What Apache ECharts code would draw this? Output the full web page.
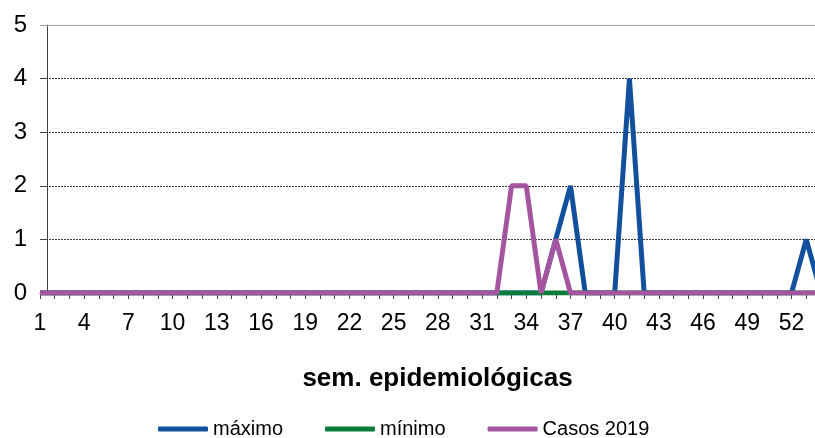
<!DOCTYPE html>
<html>
<head>
<meta charset="utf-8">
<script src="https://cdn.jsdelivr.net/npm/echarts@6/dist/echarts.min.js"></script>
<style>
	html, body { margin: 0; padding: 0; background: #fff; }
	#chart { width: 815px; height: 438px; }
</style>
</head>
<body>
<div id="chart"></div>
<script>
// epidemiological weeks (the 54th point runs off the right edge of the plot)
var weeks = ['1','2','3','4','5','6','7','8','9','10','11','12','13','14','15','16','17','18','19','20',
	'21','22','23','24','25','26','27','28','29','30','31','32','33','34','35','36','37','38','39','40',
	'41','42','43','44','45','46','47','48','49','50','51','52','53','54'];

var maximo = [0,0,0,0,0,0,0,0,0,0,0,0,0,0,0,0,0,0,0,0,
	0,0,0,0,0,0,0,0,0,0,0,0,0,0,0,1,2,0,0,0,
	4,0,0,0,0,0,0,0,0,0,0,0,1,0];

var minimo = [0,0,0,0,0,0,0,0,0,0,0,0,0,0,0,0,0,0,0,0,
	0,0,0,0,0,0,0,0,0,0,0,0,0,0,0,0,0,0,0,0,
	0,0,0,0,0,0,0,0,0,0,0,0,0,0];

var casos2019 = [0,0,0,0,0,0,0,0,0,0,0,0,0,0,0,0,0,0,0,0,
	0,0,0,0,0,0,0,0,0,0,0,0,2,2,0,1,0,0,0,0,
	0,0,0,0,0,0,0,0,0,0,0,0,0,0];

var seriesNames = ['máximo', 'mínimo', 'Casos 2019'];
var seriesColors = ['#12509e', '#0b7d3a', '#a5559f'];
var yMax = 5;

var chart = echarts.init(document.getElementById('chart'));

function lineSeries(name, data, color) {
	return {
		name: name,
		type: 'line',
		data: data,
		showSymbol: false,
		symbol: 'none',
		smooth: false,
		lineStyle: { width: 5, color: color },
		itemStyle: { color: color },
		animation: false
	};
}

var series = [
	lineSeries(seriesNames[0], maximo, seriesColors[0]),
	lineSeries(seriesNames[1], minimo, seriesColors[1]),
	lineSeries(seriesNames[2], casos2019, seriesColors[2])
];
// solid grey top border of the plot area
series[0].markLine = {
	silent: true,
	symbol: 'none',
	label: { show: false },
	lineStyle: { color: '#a0a0a0', width: 1, type: 'solid' },
	data: [{ yAxis: yMax }],
	animation: false
};

chart.setOption({
	backgroundColor: '#fff',
	textStyle: { fontFamily: 'Liberation Sans, Arial, sans-serif' },
	grid: {
		left: 40,
		top: 25,
		bottom: 145,
		width: 781,
		outerBoundsMode: 'none',
		containLabel: false
	},
	legend: {
		top: 419,
		left: 158,
		padding: 0,
		itemWidth: 50,
		itemHeight: 5,
		itemGap: 42,
		icon: 'roundRect',
		textStyle: { fontSize: 20, color: '#000' },
		data: seriesNames
	},
	xAxis: {
		type: 'category',
		data: weeks,
		boundaryGap: false,
		name: 'sem. epidemiológicas',
		nameLocation: 'middle',
		nameGap: 73,
		nameTextStyle: { fontSize: 26, fontWeight: 'bold', color: '#000', padding: [0, 0, 0, 14] },
		axisLine: { show: true, lineStyle: { color: '#404040', width: 1 } },
		axisTick: { show: true, interval: 0, length: 6, lineStyle: { color: '#404040' } },
		axisLabel: { interval: 2, fontSize: 23, color: '#000', margin: 19 },
		splitLine: { show: false }
	},
	yAxis: {
		type: 'value',
		min: 0,
		max: yMax,
		interval: 1,
		offset: -7,
		axisLine: { show: true, lineStyle: { color: '#404040', width: 1 } },
		axisTick: { show: true, length: 7, lineStyle: { color: '#404040' } },
		axisLabel: { fontSize: 24, color: '#000', margin: 20 },
		splitLine: {
			show: true,
			showMinLine: false,
			showMaxLine: false,
			lineStyle: { color: '#3a3a3a', width: 1, type: [2, 1] }
		}
	},
	series: series
});
</script>
</body>
</html>
